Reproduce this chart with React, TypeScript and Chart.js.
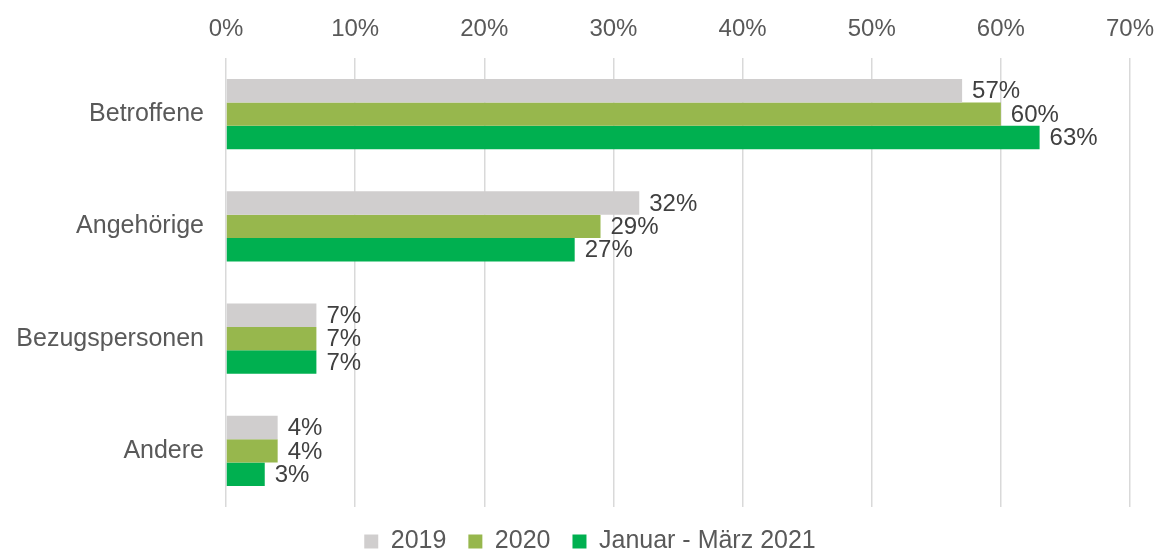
import React, { useEffect, useRef } from "react";
import { Chart, registerables } from "chart.js";

Chart.register(...registerables);

const categories = ["Betroffene", "Angehörige", "Bezugspersonen", "Andere"];
const seriesNames = ["2019", "2020", "Januar - März 2021"];
const values2019 = [57, 32, 7, 4];
const values2020 = [60, 29, 7, 4];
const values2021 = [63, 27, 7, 3];
const seriesColors = ["#D0CECE", "#97B74D", "#00B050"];
const xTicks = [0, 10, 20, 30, 40, 50, 60, 70];

const FONT = "'Liberation Sans', Arial, sans-serif";

const dataLabelPlugin = {
  id: "dataLabels",
  afterDatasetsDraw(chart: any) {
    const ctx = chart.ctx;
    ctx.save();
    ctx.font = `24px ${FONT}`;
    ctx.fillStyle = "#404040";
    ctx.textAlign = "left";
    ctx.textBaseline = "middle";
    chart.data.datasets.forEach((ds: any, di: number) => {
      const meta = chart.getDatasetMeta(di);
      meta.data.forEach((bar: any, i: number) => {
        ctx.fillText(`${ds.data[i]}%`, bar.x + 10, bar.y + 1);
      });
    });
    ctx.restore();
  },
};

const legendShiftPlugin = {
  id: "legendShift",
  afterLayout(chart: any) {
    const lg = chart.legend;
    if (lg) {
      lg.left += 25;
      lg.right += 25;
    }
  },
};

export default function App() {
  const ref = useRef<HTMLCanvasElement>(null);
  useEffect(() => {
    const data = [values2019, values2020, values2021];
    const chart = new Chart(ref.current!, {
      type: "bar",
      data: {
        labels: categories,
        datasets: seriesNames.map((name, i) => ({
          label: name,
          data: data[i],
          backgroundColor: seriesColors[i],
          borderWidth: 0,
          barPercentage: 1,
          categoryPercentage: 0.625,
        })),
      },
      options: {
        indexAxis: "y",
        animation: false,
        responsive: false,
        maintainAspectRatio: false,
        layout: { padding: { left: 0, right: 27, top: 0, bottom: -12 } },
        scales: {
          x: {
            position: "top",
            min: 0,
            max: 70,
            afterBuildTicks: (scale: any) => {
              scale.ticks = xTicks.map((v) => ({ value: v }));
            },
            afterFit: (scale: any) => {
              scale.height = 58;
              scale.paddingLeft = 0;
              scale.paddingRight = 0;
            },
            ticks: {
              stepSize: 10,
              padding: 14,
              color: "#595959",
              font: { family: FONT, size: 24 },
              callback: (v: any) => `${v}%`,
            },
            grid: { color: "#D9D9D9", lineWidth: 1.5, drawTicks: false },
            border: { display: false },
          },
          y: {
            afterFit: (scale: any) => {
              scale.width = 226;
            },
            ticks: {
              padding: 22,
              color: "#595959",
              font: { family: FONT, size: 25 },
            },
            grid: { display: false, drawTicks: false },
            border: { display: false },
          },
        },
        plugins: {
          legend: {
            position: "bottom",
            labels: {
              color: "#595959",
              font: { family: FONT, size: 25 },
              boxWidth: 14,
              boxHeight: 14,
              padding: 22,
            },
          },
          tooltip: { enabled: false },
        },
      },
      plugins: [dataLabelPlugin, legendShiftPlugin],
    });
    return () => chart.destroy();
  }, []);
  return (
    <div style={{ position: "fixed", left: 0, top: 0, width: 1157, height: 552, background: "#fff" }}>
      <canvas ref={ref} width={1157} height={552} style={{ width: 1157, height: 552 }} />
    </div>
  );
}
